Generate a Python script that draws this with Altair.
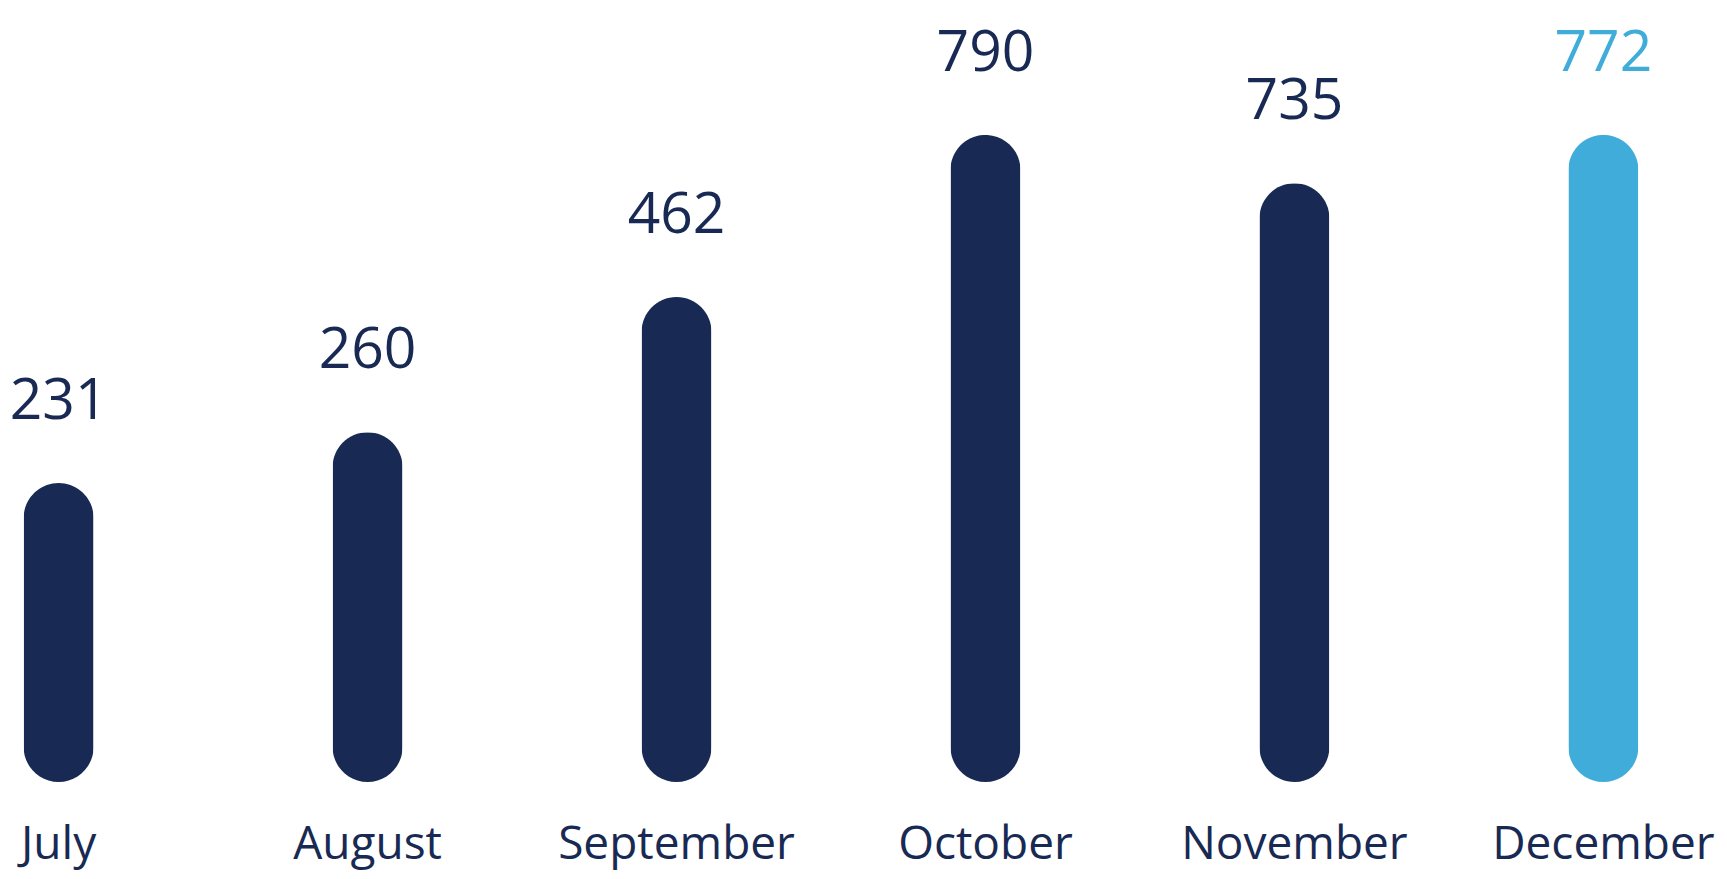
import altair as alt
import pandas as pd

months = ["July", "August", "September", "October", "November", "December"]
values = [231, 260, 462, 790, 735, 772]
# drawn bar lengths (same units as labels, scaled so October = 790)
bar_lengths = [365, 427, 592, 790, 731, 790]
highlight = ["no", "no", "no", "no", "no", "yes"]

NAVY = "#182A53"
LIGHT = "#3FACDA"

df = pd.DataFrame({"month": months, "value": values, "bar": bar_lengths, "hl": highlight})

x = alt.X("month:N", sort=months, axis=None,
          scale=alt.Scale(paddingInner=0.75, paddingOuter=0))
y_scale = alt.Scale(domain=[0, 945])
color = alt.Color("hl:N", scale=alt.Scale(domain=["no", "yes"], range=[NAVY, LIGHT]), legend=None)

bars = alt.Chart(df).mark_bar(width=70, cornerRadius=35).encode(
    x=x,
    y=alt.Y("bar:Q", scale=y_scale, axis=None),
    color=color,
)

labels = alt.Chart(df).mark_text(
    font="Open Sans", fontSize=57, dy=-64, baseline="alphabetic", align="center"
).encode(
    x=x,
    y=alt.Y("bar:Q", scale=y_scale, axis=None),
    text=alt.Text("value:Q"),
    color=color,
)

month_labels = alt.Chart(df).mark_text(
    font="Open Sans", fontSize=46, baseline="alphabetic", align="center", color=NAVY
).encode(
    x=x,
    y=alt.value(851),
    text="month:N",
)

chart = alt.layer(bars, labels, month_labels).properties(
    width=1622,
    height=774,
    autosize=alt.AutoSizeParams(type="none"),
    padding={"left": 12, "top": 0, "right": 77, "bottom": 89},
    background="white",
).configure_view(stroke=None)

chart.save("out.html", embed_options={"renderer": "svg", "actions": False})
